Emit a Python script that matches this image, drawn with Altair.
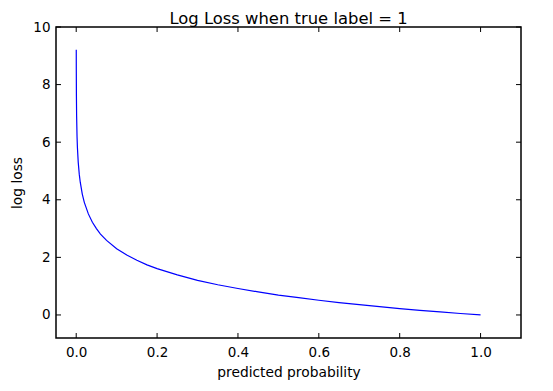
import altair as alt
import pandas as pd

# values
prob = [0.0001, 0.0002, 0.0005, 0.001, 0.002, 0.003, 0.005, 0.0075, 0.01, 0.015,
        0.02, 0.03, 0.04, 0.05, 0.06, 0.075, 0.1, 0.125, 0.15, 0.175, 0.2, 0.25,
        0.3, 0.35, 0.4, 0.45, 0.5, 0.55, 0.6, 0.65, 0.7, 0.75, 0.8, 0.85, 0.9, 0.95, 1.0]
loss = [9.21, 8.52, 7.6, 6.91, 6.21, 5.81, 5.3, 4.89, 4.61, 4.2,
        3.91, 3.51, 3.22, 3.0, 2.81, 2.59, 2.3, 2.08, 1.9, 1.74, 1.61, 1.39,
        1.2, 1.05, 0.92, 0.8, 0.69, 0.6, 0.51, 0.43, 0.36, 0.29, 0.22, 0.16, 0.105, 0.05, 0.0]
x_ticks = [0.0, 0.2, 0.4, 0.6, 0.8, 1.0]
y_ticks = [0, 2, 4, 6, 8, 10]

W, H = 465, 311
df = pd.DataFrame({"p": prob, "loss": loss})
xt = pd.DataFrame({"t": x_ticks})
yt = pd.DataFrame({"t": y_ticks})

xs = alt.Scale(domain=[-0.05, 1.1], nice=False, zero=False)
ys = alt.Scale(domain=[-0.8, 10], nice=False, zero=False)
font = "DejaVu Sans"

line = alt.Chart(df).mark_line(color="#0000ff", strokeWidth=1.2, clip=True).encode(
    x=alt.X("p:Q", scale=xs, title="predicted probability",
            axis=alt.Axis(values=x_ticks, format=".1f", tickSize=0, domain=False, grid=False,
                          labelPadding=7, titlePadding=7, labelFontSize=13.5, titleFontSize=13.8,
                          labelFont=font, titleFont=font, labelColor="black", titleColor="black",
                          titleFontWeight="normal")),
    y=alt.Y("loss:Q", scale=ys, title="log loss",
            axis=alt.Axis(values=y_ticks, format="d", tickSize=0, domain=False, grid=False,
                          labelPadding=6, titlePadding=8, labelFontSize=13.5, titleFontSize=13.8,
                          labelFont=font, titleFont=font, labelColor="black", titleColor="black",
                          titleFontWeight="normal")),
)

tk = 5
xb = alt.Chart(xt).mark_rule(color="black", strokeWidth=1).encode(
    x=alt.X("t:Q", scale=xs), y=alt.value(H), y2=alt.value(H - tk))
xtp = alt.Chart(xt).mark_rule(color="black", strokeWidth=1).encode(
    x=alt.X("t:Q", scale=xs), y=alt.value(0), y2=alt.value(tk))
yl = alt.Chart(yt).mark_rule(color="black", strokeWidth=1).encode(
    y=alt.Y("t:Q", scale=ys), x=alt.value(0), x2=alt.value(tk))
yr = alt.Chart(yt).mark_rule(color="black", strokeWidth=1).encode(
    y=alt.Y("t:Q", scale=ys), x=alt.value(W - tk), x2=alt.value(W))

chart = alt.layer(line, xb, xtp, yl, yr).properties(
    width=W, height=H,
    background="white",
    title=alt.Title("Log Loss when true label = 1", font=font, fontSize=16.4,
                    fontWeight="normal", color="black", offset=-7),
    autosize=alt.AutoSizeParams(type="none"),
    padding={"left": 48, "top": 19, "right": 24, "bottom": 52},
).configure_view(stroke="black", strokeWidth=1.5)

chart.save("out.html", embed_options={"renderer": "svg", "actions": False})
